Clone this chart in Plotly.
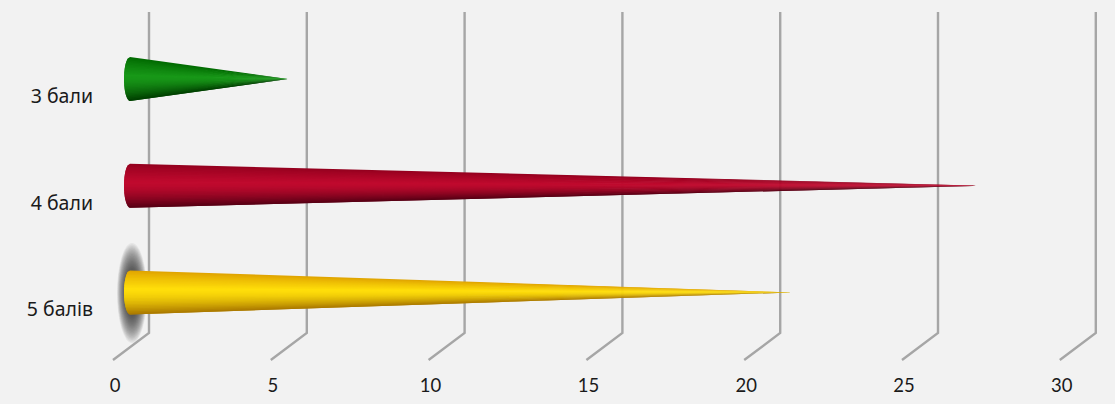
import math
import plotly.graph_objects as go

categories = ["3 бали", "4 бали", "5 балів"]
values = [5, 27, 21]
x_ticks = [0, 5, 10, 15, 20, 25, 30]
x_tick_labels = ["0", "5", "10", "15", "20", "25", "30"]

# (top shade, bright shade, bottom shade) of each cone
shades = [
    ((0, 104, 0), (24, 152, 24), (0, 62, 0)),
    ((146, 0, 30), (192, 10, 46), (84, 0, 20)),
    ((222, 160, 0), (255, 222, 10), (168, 118, 0)),
]

W, H = 1115, 404
ML, MB = 98, 32
PX_PER_UNIT = 31.56
ZERO_PX = 130
FIRST_PX = 79
PX_PER_CAT = 106.7


def ux(px):
    return px / PX_PER_UNIT


def uy(px):
    return px / PX_PER_CAT


x_range = [ux(ML - ZERO_PX), ux(W - ZERO_PX)]
y_range = [uy(H - MB - FIRST_PX), uy(-FIRST_PX)]

fig = go.Figure()

# depth grid: back wall line plus slanted floor line
for v in x_ticks:
    fig.add_trace(go.Scatter(
        x=[v + ux(19), v + ux(19), v - ux(17)],
        y=[uy(12 - FIRST_PX), uy(333 - FIRST_PX), uy(360 - FIRST_PX)],
        mode="lines", line=dict(color="#a6a6a6", width=2.4),
        hoverinfo="skip", showlegend=False))


def mix(a, b, t):
    return tuple(round(a[i] + (b[i] - a[i]) * t) for i in range(3))


def shade_at(s, f):
    # f from 0 (top edge) to 1 (bottom edge); highlight sits a little above the middle
    p = 0.42
    if f < p:
        return mix(s[0], s[1], (f / p) ** 0.8)
    return mix(s[1], s[2], ((f - p) / (1 - p)) ** 1.6)


STRIPS = 30
half_h = uy(22)
cap_w = ux(6)
for i, (val, s) in enumerate(zip(values, shades)):
    for k in range(STRIPS):
        t0 = -1 + 2 * k / STRIPS
        # each strip overlaps the next one, so no seams appear and the tip stays thin
        t1 = min(1.0, t0 + 4 / STRIPS)
        ts = [t0 + (t1 - t0) * j / 6 for j in range(7)]
        xs = [-cap_w * math.sqrt(max(0, 1 - t * t)) for t in ts] + [val]
        ys = [i + t * half_h for t in ts] + [i]
        c = shade_at(s, (k + 0.5) / STRIPS)
        fig.add_trace(go.Scatter(
            x=xs, y=ys, mode="lines", fill="toself",
            fillcolor=f"rgb{c}", line=dict(width=0),
            hoverinfo="skip", showlegend=False))

# soft shadow behind the lowest cone
shapes = []
LAYERS = 36
for n in range(LAYERS):
    f = 1 - n / LAYERS
    rx, ry = 15 * f, 50 * f
    cx, cy = 132, 293
    shapes.append(dict(
        type="circle", xref="x", yref="y", layer="below",
        x0=ux(cx - rx - ZERO_PX), x1=ux(cx + rx - ZERO_PX),
        y0=uy(cy - ry - FIRST_PX), y1=uy(cy + ry - FIRST_PX),
        fillcolor="rgba(40,40,40,0.06)", line=dict(width=0)))

x_font = dict(family="Lato, Carlito, sans-serif", size=18.5, color="#1a1a1a")
y_font = dict(family="Noto Sans, sans-serif", size=19.5, color="#1a1a1a")
fig.update_layout(
    width=W, height=H,
    margin=dict(l=ML, r=0, t=0, b=MB, pad=0),
    paper_bgcolor="#f2f2f2", plot_bgcolor="rgba(0,0,0,0)",
    showlegend=False, shapes=shapes,
    xaxis=dict(
        range=x_range, showgrid=False, zeroline=False, showline=False,
        tickmode="array", tickvals=[v - ux(15) for v in x_ticks],
        ticktext=x_tick_labels, tickfont=x_font, ticks="", automargin=False),
    yaxis=dict(
        range=y_range, showgrid=False, zeroline=False, showline=False,
        tickmode="array", tickvals=[i + uy(17) for i in range(len(categories))],
        ticktext=categories, tickfont=y_font, ticks="", automargin=False,
        ticklabelstandoff=4),
)

fig.write_html("out.html", config={"displayModeBar": False},
               post_script="document.body.style.margin='0';")
